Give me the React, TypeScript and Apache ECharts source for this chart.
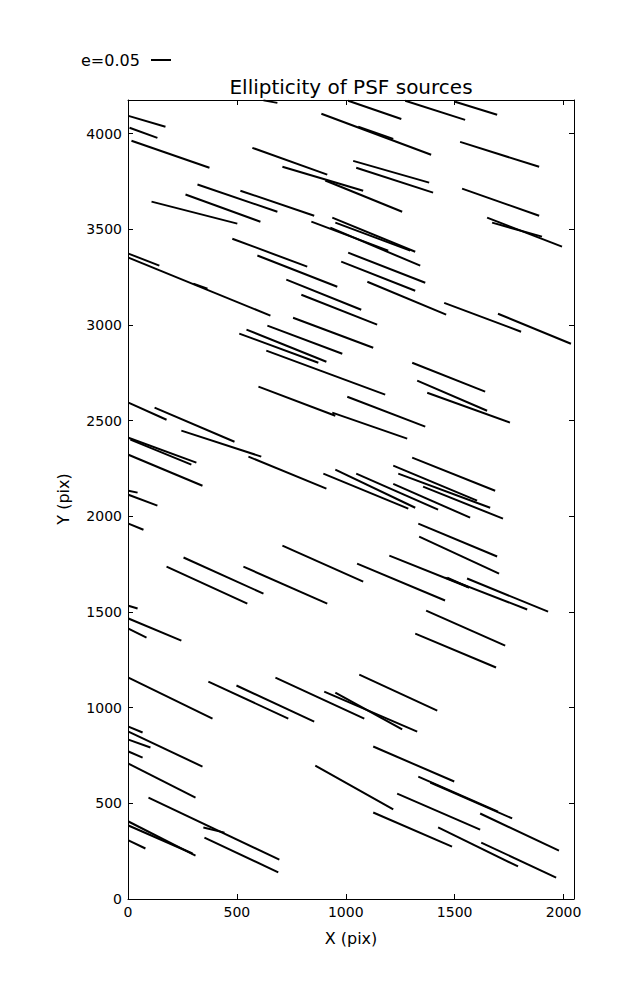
import React, { useEffect, useRef } from "react";
import * as echarts from "echarts";

// Whisker segments (data units, pix): start and end points
const xStart = [
  622, 2, 7, 16, 1011, 1273, 1502, 888, 1057, 1525,
  571, 709, 906, 1034, 1048, 319, 264, 108, 516, 1534,
  1649, 1672, 938, 952, 842, 929, 1011, 979, 479, 594,
  2, 2, 300, 727, 796, 1099, 1452, 1699, 758, 640,
  544, 511, 635, 1305, 1328, 1374, 599, 938, 1007, 2,
  122, 245, 2, 11, 2, 553, 952, 897, 1048, 1305,
  1218, 1241, 1355, 1218, 2, 2, 2, 1333, 1337, 1200,
  1466, 1557, 1456, 1052, 709, 255, 177, 530, 2, 2,
  2, 1369, 1319, 1062, 2, 369, 498, 677, 901, 952,
  2, 2, 2, 2, 2, 860, 94, 346, 2, 2,
  2, 351, 1126, 1333, 1388, 1236, 1126, 1617, 1424, 1622,
];
const yStart = [
  4174, 4093, 4031, 3963, 4172, 4172, 4167, 4104, 4036, 3957,
  3926, 3827, 3755, 3858, 3822, 3734, 3682, 3645, 3702, 3713,
  3561, 3535, 3561, 3535, 3540, 3509, 3378, 3331, 3451, 3363,
  3373, 3352, 3216, 3237, 3158, 3226, 3116, 3059, 3038, 2997,
  2976, 2955, 2866, 2803, 2709, 2646, 2678, 2542, 2625, 2594,
  2568, 2448, 2411, 2401, 2322, 2312, 2244, 2223, 2223, 2307,
  2265, 2223, 2155, 2170, 2134, 2113, 1962, 1962, 1894, 1795,
  1680, 1675, 1680, 1753, 1847, 1785, 1737, 1737, 1533, 1466,
  1413, 1507, 1387, 1173, 1157, 1136, 1116, 1157, 1084, 1079,
  901, 875, 833, 771, 708, 697, 530, 374, 405, 384,
  306, 321, 797, 640, 609, 551, 452, 447, 374, 295,
];
const xEnd = [
  686, 172, 135, 374, 1255, 1548, 1695, 1392, 1218, 1888,
  915, 1080, 1259, 1383, 1401, 686, 608, 502, 855, 1888,
  1993, 1901, 1319, 1296, 1195, 1342, 1365, 1319, 823, 961,
  144, 654, 365, 1071, 1144, 1461, 1805, 2034, 1126, 984,
  911, 874, 1181, 1640, 1649, 1754, 952, 1282, 1365, 177,
  489, 612, 314, 291, 342, 911, 1319, 1287, 1424, 1686,
  1603, 1663, 1722, 1571, 44, 135, 71, 1695, 1704, 1566,
  1566, 1929, 1833, 1456, 1080, 622, 548, 915, 44, 245,
  85, 1732, 1690, 1420, 388, 736, 855, 1085, 1328, 1259,
  67, 342, 103, 67, 310, 1218, 695, 443, 310, 296,
  80, 690, 1498, 1699, 1764, 1617, 1488, 1979, 1791, 1966,
];
const yEnd = [
  4161, 4036, 3978, 3822, 4077, 4072, 4099, 3890, 3973, 3827,
  3786, 3702, 3592, 3744, 3692, 3592, 3540, 3530, 3571, 3571,
  3410, 3462, 3383, 3389, 3389, 3310, 3221, 3179, 3305, 3200,
  3310, 3049, 3190, 3080, 3002, 3054, 2965, 2902, 2881, 2850,
  2808, 2803, 2636, 2652, 2552, 2490, 2526, 2406, 2469, 2505,
  2390, 2312, 2281, 2270, 2160, 2145, 2045, 2040, 2035, 2134,
  2082, 2045, 1988, 1993, 2124, 2056, 1930, 1790, 1701, 1628,
  1628, 1502, 1513, 1560, 1659, 1596, 1544, 1544, 1518, 1350,
  1366, 1324, 1210, 985, 943, 943, 927, 943, 875, 886,
  870, 692, 792, 739, 530, 468, 206, 347, 227, 238,
  264, 139, 614, 457, 421, 363, 274, 253, 170, 112,
];

const X_MAX = 2048;
const Y_MAX = 4176;
const X_TICK = 500;
const Y_TICK = 500;

const TITLE = "Ellipticity of PSF sources";
const X_NAME = "X (pix)";
const Y_NAME = "Y (pix)";
const LEGEND_LABEL = "e=0.05";

const FONT = "DejaVu Sans";

function makeAxis(max: number, interval: number, position: string, labels: boolean) {
  return {
    type: "value",
    min: 0,
    max,
    interval,
    position,
    splitLine: { show: false },
    axisLine: { show: true, onZero: false, lineStyle: { color: "#000", width: 1 } },
    axisTick: {
      show: true,
      inside: true,
      length: 5,
      lineStyle: { color: "#000", width: 1 },
    },
    axisLabel: labels
      ? {
          show: true,
          inside: false,
          color: "#000",
          fontSize: 14,
          fontFamily: FONT,
          margin: 6,
          showMaxLabel: false,
          formatter: (v: number) => String(v),
        }
      : { show: false },
  };
}

export default function App() {
  const ref = useRef<HTMLDivElement>(null);

  useEffect(() => {
    document.body.style.margin = "0";
    if (!ref.current) return;
    const chart = echarts.init(ref.current, undefined, { renderer: "svg" });

    const segs = xStart.map((x, i) => ({
      coords: [
        [x, yStart[i]],
        [xEnd[i], yEnd[i]],
      ],
    }));

    chart.setOption({
      animation: false,
      backgroundColor: "#fff",
      grid: {
        left: 128,
        top: 100,
        width: 446,
        height: 799,
        show: false,
      },
      xAxis: [
        makeAxis(X_MAX, X_TICK, "bottom", true),
        makeAxis(X_MAX, X_TICK, "top", false),
      ],
      yAxis: [
        makeAxis(Y_MAX, Y_TICK, "left", true),
        makeAxis(Y_MAX, Y_TICK, "right", false),
      ],
      series: [
        {
          type: "lines",
          coordinateSystem: "cartesian2d",
          xAxisIndex: 0,
          yAxisIndex: 0,
          polyline: false,
          silent: true,
          clip: true,
          lineStyle: { color: "#000", width: 2, opacity: 1, curveness: 0 },
          data: segs,
        },
      ],
      graphic: [
        {
          type: "text",
          x: 351,
          y: 87,
          style: {
            text: TITLE,
            fill: "#000",
            font: `20px "${FONT}"`,
            textAlign: "center",
            textVerticalAlign: "middle",
          },
        },
        {
          type: "text",
          x: 351,
          y: 938,
          style: {
            text: X_NAME,
            fill: "#000",
            font: `16px "${FONT}"`,
            textAlign: "center",
            textVerticalAlign: "middle",
          },
        },
        {
          type: "text",
          x: 63,
          y: 499,
          rotation: Math.PI / 2,
          style: {
            text: Y_NAME,
            fill: "#000",
            font: `16px "${FONT}"`,
            textAlign: "center",
            textVerticalAlign: "middle",
          },
        },
        {
          type: "text",
          x: 81,
          y: 60,
          style: {
            text: LEGEND_LABEL,
            fill: "#000",
            font: `16px "${FONT}"`,
            textAlign: "left",
            textVerticalAlign: "middle",
          },
        },
        {
          type: "line",
          shape: { x1: 151, y1: 60, x2: 171, y2: 60 },
          style: { stroke: "#000", lineWidth: 2 },
        },
      ],
    });

    return () => chart.dispose();
  }, []);

  return <div ref={ref} style={{ width: 637, height: 1000 }} />;
}
